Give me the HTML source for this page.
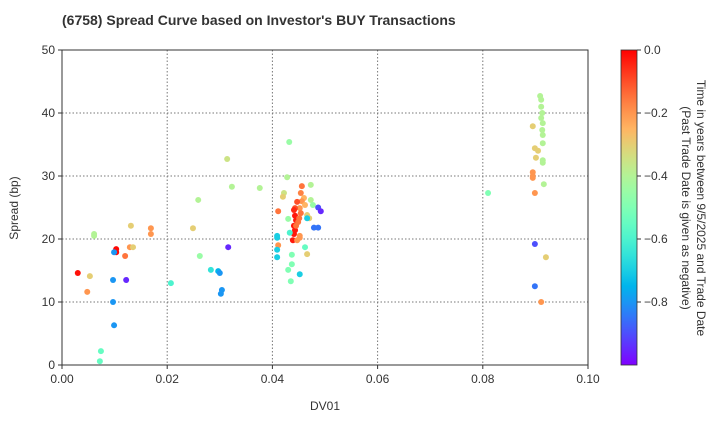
<!DOCTYPE html>
<html><head><meta charset="utf-8"><style>
body{margin:0;background:#fff;}
svg text{font-family:"Liberation Sans",Arial,sans-serif;fill:#333;}
</style></head><body>
<svg id="c" width="720" height="420" xmlns="http://www.w3.org/2000/svg">
<defs><linearGradient id="cg" x1="0" y1="1" x2="0" y2="0"></linearGradient></defs>
<text x="62" y="25" font-size="14" font-weight="bold">(6758)   Spread Curve based on Investor's BUY Transactions</text>
<g id="grid"></g><g id="pts"></g><g id="axes"></g>
<text x="18" y="208" font-size="12" transform="rotate(-90 18 208)" text-anchor="middle">Spread (bp)</text>
<text x="325" y="410" font-size="12" text-anchor="middle">DV01</text>
<rect x="621" y="50" width="16" height="315" fill="url(#cg)"/>
<g id="cb"></g>
<text font-size="12" transform="translate(697 208) rotate(90)" text-anchor="middle"><tspan x="0" y="0">Time in years between 9/5/2025 and Trade Date</tspan><tspan x="0" y="15">(Past Trade Date is given as negative)</tspan></text>
</svg>
<script>
const xTicks=[0,0.02,0.04,0.06,0.08,0.10];
const xTickLabels=["0.00","0.02","0.04","0.06","0.08","0.10"];
const yTicks=[0,10,20,30,40,50];
const cTicks=[0,-0.2,-0.4,-0.6,-0.8];
const cTickLabels=["0.0","−0.2","−0.4","−0.6","−0.8"];
const dv01=[0.0030,0.0053,0.0048,0.0061,0.0061,0.0131,0.0169,0.0169,0.0129,0.0135,0.0103,0.0103,0.0099,0.0120,0.0097,0.0122,0.0097,0.0099,0.0074,0.0072,0.0249,0.0262,0.0316,0.0283,0.0297,0.0300,0.0207,0.0304,0.0302,0.0259,0.0314,0.0323,
0.0432,0.0428,0.0376,0.0422,0.0420,0.0456,0.0454,0.0473,0.0460,0.0456,0.0462,0.0452,0.0473,0.0447,0.0443,0.0477,0.0441,0.0443,0.0445,0.0441,0.0443,0.0441,0.0439,0.0454,0.0451,0.0449,0.0445,0.0411,0.0430,0.0487,0.0492,0.0466,0.0470,0.0466,0.0479,0.0487,0.0452,0.0447,0.0452,0.0409,0.0409,0.0411,0.0409,0.0409,0.0437,0.0466,0.0437,0.0430,0.0452,0.0435,0.0433,0.0462,
0.0810,0.0909,0.0911,0.0911,0.0913,0.0911,0.0914,0.0913,0.0914,0.0914,0.0914,0.0914,0.0916,0.0895,0.0899,0.0905,0.0901,0.0895,0.0895,0.0895,0.0899,0.0899,0.0899,0.0920,0.0911];
const spread=[14.6,14.1,11.6,20.8,20.5,22.1,21.7,20.8,18.7,18.7,17.9,18.4,17.9,17.3,13.5,13.5,10.0,6.3,2.2,0.6,21.7,17.3,18.7,15.1,14.9,14.6,13.0,11.9,11.3,26.2,32.7,28.3,
35.4,29.8,28.1,27.3,26.7,28.4,27.3,28.6,26.5,26.0,25.4,24.9,26.2,25.9,24.9,25.4,24.6,23.7,23.0,22.1,21.4,20.8,19.8,24.1,23.3,22.7,22.1,24.4,23.2,25.0,24.4,23.8,23.3,23.3,21.8,21.8,20.5,19.8,20.2,20.5,20.2,19.0,18.3,17.1,17.5,17.6,16.0,15.1,14.4,13.3,21.0,18.7,
27.3,42.7,42.1,41.0,40.0,39.2,38.4,37.3,36.5,35.2,32.5,32.1,28.7,37.9,34.4,34.0,32.9,30.6,30.0,29.7,27.3,19.2,12.5,17.1,10.0];
const tradeTime=[-0.02,-0.3,-0.2,-0.4,-0.4,-0.3,-0.2,-0.2,-0.2,-0.3,-0.01,-0.01,-0.8,-0.15,-0.8,-0.95,-0.8,-0.8,-0.55,-0.55,-0.3,-0.45,-0.95,-0.65,-0.75,-0.8,-0.6,-0.8,-0.8,-0.4,-0.35,-0.4,
-0.45,-0.4,-0.4,-0.35,-0.3,-0.15,-0.17,-0.4,-0.25,-0.2,-0.25,-0.2,-0.4,-0.1,-0.1,-0.45,-0.05,-0.03,-0.03,-0.03,-0.03,-0.03,-0.03,-0.15,-0.15,-0.15,-0.15,-0.15,-0.45,-0.9,-0.95,-0.3,-0.3,-0.7,-0.85,-0.85,-0.2,-0.2,-0.2,-0.7,-0.7,-0.2,-0.7,-0.7,-0.5,-0.3,-0.5,-0.5,-0.7,-0.5,-0.6,-0.55,
-0.5,-0.4,-0.4,-0.4,-0.4,-0.4,-0.4,-0.4,-0.4,-0.4,-0.4,-0.4,-0.4,-0.3,-0.3,-0.3,-0.3,-0.2,-0.2,-0.2,-0.2,-0.9,-0.85,-0.3,-0.2];
const X0=62,X1=588,Y0=365,Y1=50;
const sx=v=>X0+(v-0)/(0.10)*(X1-X0);
const sy=v=>Y0-(v/50)*(Y0-Y1);
const ns="http://www.w3.org/2000/svg";
function mk(t,a,p){const e=document.createElementNS(ns,t);for(const k in a)e.setAttribute(k,a[k]);p.appendChild(e);return e;}
function rainbow(t){const x=Math.min(1,Math.max(0,t+1));const c=v=>Math.round(255*Math.min(1,Math.max(0,v)));
return `rgb(${c(Math.abs(2*x-0.5))},${c(Math.sin(Math.PI*x))},${c(Math.cos(Math.PI*x/2))})`;}
const grid=document.getElementById('grid'),axes=document.getElementById('axes'),pts=document.getElementById('pts'),cb=document.getElementById('cb');
xTicks.forEach((v,i)=>{const x=sx(v);
 if(i>0&&i<xTicks.length-1){const l=mk('line',{x1:x,x2:x,y1:Y1,y2:Y0,stroke:'#777','stroke-dasharray':'1.5,2','stroke-width':1},grid);
 
 }
 mk('line',{x1:x,x2:x,y1:Y0,y2:Y0+4,stroke:'#333'},axes);
 const t=mk('text',{x:x,y:Y0+18,'font-size':12,'text-anchor':'middle'},axes);t.textContent=xTickLabels[i];
 
 });
yTicks.forEach(v=>{const y=sy(v);
 if(v>0&&v<50){const l=mk('line',{x1:X0,x2:X1,y1:y,y2:y,stroke:'#777','stroke-dasharray':'1.5,2','stroke-width':1},grid);
 
 }
 mk('line',{x1:X0-4,x2:X0,y1:y,y2:y,stroke:'#333'},axes);
 const t=mk('text',{x:X0-7,y:y+4,'font-size':12,'text-anchor':'end'},axes);t.textContent=v;
 
 });
const fr=mk('rect',{x:X0,y:Y1,width:X1-X0,height:Y0-Y1,fill:'none',stroke:'#333'},axes);


dv01.forEach((d,i)=>{const c=mk('circle',{cx:sx(d),cy:sy(spread[i]),r:3,fill:rainbow(tradeTime[i])},pts);
 
 });
const g=document.getElementById('cg');
for(let i=0;i<=20;i++){const t=-1+i/20;mk('stop',{offset:(i/20),'stop-color':rainbow(t)},g);}
const cy=t=>Y1+(-t)*(Y0-Y1);
mk('rect',{x:621,y:50,width:16,height:315,fill:'none',stroke:'#333','stroke-width':0.8},cb);
cTicks.forEach((v,i)=>{const y=cy(v);mk('line',{x1:637,x2:641,y1:y,y2:y,stroke:'#333'},cb);
 const t=mk('text',{x:644,y:y+4,'font-size':12},cb);t.textContent=cTickLabels[i];
 
 });
</script>
</body></html>
